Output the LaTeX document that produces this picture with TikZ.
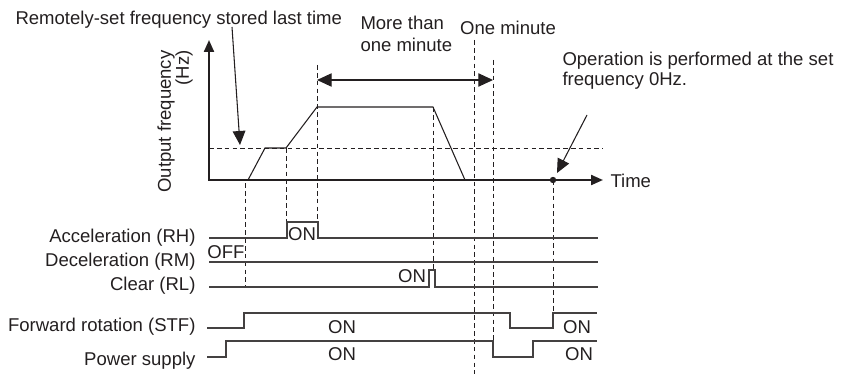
\documentclass[tikz,border=0pt]{standalone}
\usepackage{fontspec}
\setmainfont{Liberation Sans}
\usetikzlibrary{arrows.meta}
\definecolor{ink}{RGB}{35,31,32}
\tikzset{every picture/.style={line width=0.75pt}}
\tikzset{
lbl/.style={inner sep=0pt, text=ink, font=\fontsize{13.9}{15}\selectfont},
sig/.style={draw=ink!85, line width=0.9pt},
griddash/.style={draw=ink, line width=0.6pt, dash pattern=on 3.5pt off 2.4pt},
axis/.style={draw=ink, line width=1.6pt},
pointer/.style={draw=ink, line width=0.8pt, -{Triangle[length=10.5pt,width=9.5pt]}}}

\begin{document}
\begin{tikzpicture}[x=0.75pt,y=0.75pt,yscale=-1,xscale=1]
\useasboundingbox (0,0) rectangle (841,378);

%Axes
\coordinate (origin) at (209,180);
\coordinate (yTop) at (209,40);
\coordinate (xEnd) at (603,180);
\draw [axis, {Triangle[length=9pt,width=7.5pt]}-{Triangle[length=9pt,width=7.5pt]}] (yTop) -- (origin) -- (xEnd);
%Set frequency level
\draw [griddash] (209,148) -- (603,148);
%Frequency curve
\draw [sig, draw=ink, line width=0.8pt] (248,180) -- (265,148) -- (286,148) -- (317,107) -- (433,107) -- (465,180);

%Dashed time marks
\draw [griddash] (245,183) -- (245,287);
\draw [griddash] (286,148) -- (286,222);
\draw [griddash] (317,65) -- (317,222);
\draw [griddash] (433,107) -- (433,270);
\draw [griddash] (474,40) -- (474,374);
\draw [griddash] (493,60) -- (493,341);
\draw [griddash] (553,180) -- (553,313);

%Signals
\draw [sig] (209,238) -- (287,238) -- (287,222) -- (318,222) -- (318,238) -- (598,238);
\draw [sig] (209,262) -- (598,262);
\draw [sig] (209,287) -- (429,287) -- (429,270) -- (435,270) -- (435,287) -- (598,287);
\draw [sig] (207,328) -- (244,328) -- (244,313) -- (510,313) -- (510,328) -- (553,328) -- (553,313) -- (597,313);
\draw [sig] (207,357) -- (226,357) -- (226,341) -- (493,341) -- (493,357) -- (533,357) -- (533,341) -- (597,341);

% Text Node
\node [lbl, anchor=base west] (remote) at (15,25) {Remotely-set frequency stored last time};
% Text Node
\node [lbl, anchor=east, rotate=90, align=right, font=\fontsize{13.9}{13.5}\selectfont] (outFreq) at (175,50) {Output frequency\\(Hz)};
% Text Node
\node [lbl, anchor=base west, align=left, font=\fontsize{13.9}{17}\selectfont] (moreMin) at (360,52) {More than\\one minute};
% Text Node
\node [lbl, anchor=base] (oneMin) at (508,35) {One minute};
% Text Node
\node [lbl, anchor=base west, align=left] (zeroHz) at (562,85) {Operation is performed at the set\\frequency 0Hz.};
% Text Node
\node [lbl, anchor=west] (timeLbl) at (610,181) {Time};

% Signal names
\node [lbl, anchor=east] (accRH) at (196,238) {Acceleration (RH)};
\node [lbl, anchor=east] (decRM) at (196,262) {Deceleration (RM)};
\node [lbl, anchor=east] (clrRL) at (196,286) {Clear (RL)};
\node [lbl, anchor=east] (fwdSTF) at (196,327) {Forward rotation (STF)};
\node [lbl, anchor=east] (pwr) at (196,361) {Power supply};

% States
\node [lbl] (onRH) at (302,234) {ON};
\node [lbl] (offRM) at (226,252) {OFF};
\node [lbl] (onRL) at (412,276) {ON};
\node [lbl] (onSTF) at (342,327) {ON};
\node [lbl] (onPwr) at (342,354) {ON};
\node [lbl] (onSTFb) at (577,327) {ON};
\node [lbl] (onPwrb) at (579,354) {ON};

%Pointers
\coordinate (storedFrom) at (232,27);
\coordinate (storedTip) at (240,145);
\draw [pointer] (storedFrom) -- (storedTip);
\coordinate (zeroDot) at (553,180);
\fill [ink] (zeroDot) circle (3.2);
\coordinate (zeroFrom) at (587,115);
\coordinate (zeroTip) at (557,173);
\draw [pointer] (zeroFrom) -- (zeroTip);
\coordinate (minL) at (317,80);
\coordinate (minR) at (493,80);
\draw [pointer, {Triangle[length=11pt,width=10pt]}-{Triangle[length=11pt,width=10pt]}] (minL) -- (minR);
\end{tikzpicture}
\end{document}
